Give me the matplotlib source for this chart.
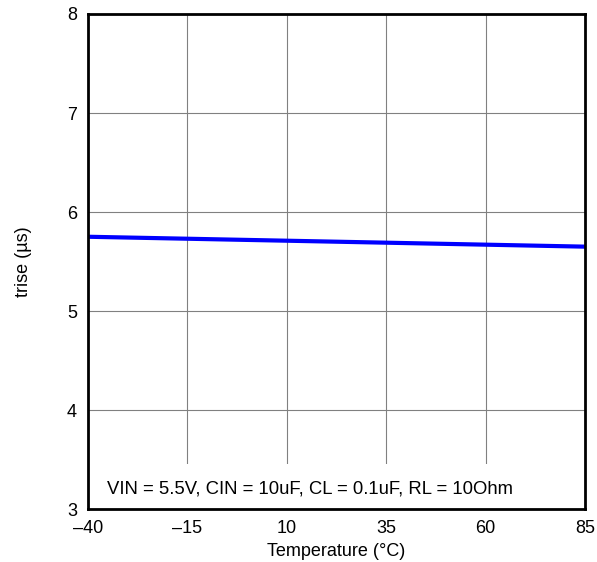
import matplotlib
matplotlib.use("Agg")
import matplotlib.pyplot as plt
from matplotlib.patches import Rectangle

# ===== Data =====
temperature = [-40, -15, 10, 35, 60, 85]
trise = [5.75, 5.73, 5.71, 5.69, 5.67, 5.65]
x_ticks = [-40, -15, 10, 35, 60, 85]
x_labels = ["\u201340", "\u201315", "10", "35", "60", "85"]
y_ticks = [3, 4, 5, 6, 7, 8]

plt.rcParams["font.family"] = ["Liberation Sans", "DejaVu Sans"]

fig = plt.figure(figsize=(5.97, 5.62), dpi=100)
ax = fig.add_axes([88 / 597, 1 - 509 / 562, (585 - 88) / 597, (509 - 14) / 562])

ax.set_xlim(-40, 85)
ax.set_ylim(3, 8)
ax.set_xticks(x_ticks)
ax.set_xticklabels(x_labels)
ax.set_yticks(y_ticks)
ax.tick_params(length=0, labelsize=13, pad=8)
ax.grid(True, color="#808080", linewidth=0.8, zorder=0)

ax.plot(temperature, trise, color="#0000ff", linewidth=3, zorder=3)

# white band behind the conditions note (hides the grid there)
ax.add_patch(Rectangle((0, 0), 1, 0.09, transform=ax.transAxes,
                       facecolor="white", edgecolor="none", zorder=2))
ax.text(0.038, 0.04, "VIN = 5.5V, CIN = 10uF, CL = 0.1uF, RL = 10Ohm",
        transform=ax.transAxes, fontsize=13.3, va="center", ha="left", zorder=4)

for s in ax.spines.values():
    s.set_linewidth(2)
    s.set_zorder(5)

ax.set_xlabel("Temperature (\u00b0C)", fontsize=13, labelpad=4)
ax.set_ylabel("trise (\u00b5s)", fontsize=13, labelpad=25)

fig.savefig("out.png", dpi=100)
